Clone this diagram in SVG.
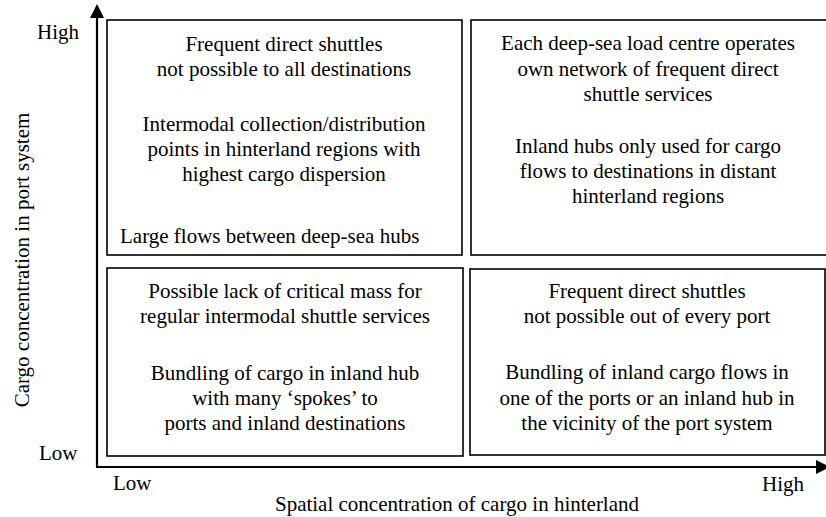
<svg xmlns="http://www.w3.org/2000/svg" width="826" height="517" viewBox="0 0 826 517">
<style>
text{font-family:"Liberation Serif","Times New Roman",serif;font-size:21px;fill:#000}
.c{text-anchor:middle}
.box{fill:#fff;stroke:#000;stroke-width:1.6}
.axis{stroke:#000;stroke-width:2.2;fill:none}
</style>
<rect width="826" height="517" fill="#fff"/>
<g id="axes">
<line class="axis" x1="97" y1="16" x2="97" y2="467"/>
<line class="axis" x1="96" y1="467" x2="818" y2="467"/>
<polygon points="97,4 90,18 104,18" fill="#000"/>
<polygon points="830,467 816,460 816,474" fill="#000"/>
</g>
<g id="axis-labels">
<text x="37" y="39">High</text>
<text x="39" y="460">Low</text>
<text x="113" y="490">Low</text>
<text x="762" y="491">High</text>
<text class="c" x="457" y="511">Spatial concentration of cargo in hinterland</text>
<text class="c" transform="translate(29,260) rotate(-90)">Cargo concentration in port system</text>
</g>
<g id="q-top-left">
<rect class="box" x="107" y="20" width="355" height="235"/>
<text class="c" x="284" y="51">Frequent direct shuttles</text>
<text class="c" x="284" y="76">not possible to all destinations</text>
<text class="c" x="284" y="131">Intermodal collection/distribution</text>
<text class="c" x="284" y="156">points in hinterland regions with</text>
<text class="c" x="284" y="181">highest cargo dispersion</text>
<text x="120" y="243">Large flows between deep-sea hubs</text>
</g>
<g id="q-top-right">
<rect class="box" x="471" y="20" width="356" height="235"/>
<text class="c" x="648" y="50">Each deep-sea load centre operates</text>
<text class="c" x="648" y="76">own network of frequent direct</text>
<text class="c" x="648" y="101">shuttle services</text>
<text class="c" x="648" y="153">Inland hubs only used for cargo</text>
<text class="c" x="648" y="178">flows to destinations in distant</text>
<text class="c" x="648" y="203">hinterland regions</text>
</g>
<g id="q-bottom-left">
<rect class="box" x="107" y="268" width="356" height="188"/>
<text class="c" x="285" y="298">Possible lack of critical mass for</text>
<text class="c" x="285" y="323">regular intermodal shuttle services</text>
<text class="c" x="285" y="380">Bundling of cargo in inland hub</text>
<text class="c" x="285" y="405">with many ‘spokes’ to</text>
<text class="c" x="285" y="430">ports and inland destinations</text>
</g>
<g id="q-bottom-right">
<rect class="box" x="470" y="269" width="355" height="186"/>
<text class="c" x="647" y="298">Frequent direct shuttles</text>
<text class="c" x="647" y="323">not possible out of every port</text>
<text class="c" x="647" y="379">Bundling of inland cargo flows in</text>
<text class="c" x="647" y="405">one of the ports or an inland hub in</text>
<text class="c" x="647" y="430">the vicinity of the port system</text>
</g>
</svg>
